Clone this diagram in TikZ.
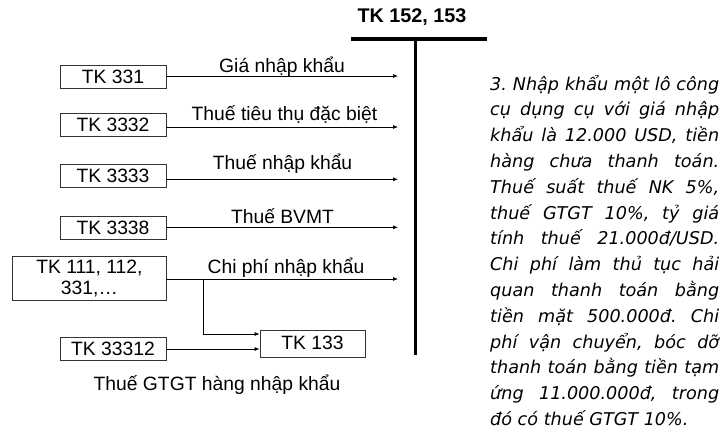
\documentclass[tikz,border=0pt]{standalone}
\usepackage{fontspec}
\setmainfont{Liberation Sans}
\newfontfamily\notefont{DejaVu Sans}
\usetikzlibrary{arrows.meta}
\begin{document}
\begin{tikzpicture}[x=1pt,y=-1pt,
  box/.style={draw=black!80, line width=0.8pt, minimum width=106pt, minimum height=23pt, inner sep=0pt, font=\fontsize{19.3}{21.5}\selectfont},
  arr/.style={-{Latex[length=5pt,width=4pt]}, line width=0.7pt},
  lbl/.style={font=\fontsize{19.3}{21}\selectfont, anchor=base, inner sep=0pt},
  note/.style={font=\notefont\itshape\fontsize{17.6}{20}\selectfont\frenchspacing, anchor=base west, inner sep=0pt}]
\useasboundingbox (0,0) rectangle (727,429);
% title and T account
\node[font=\bfseries\fontsize{19.8}{21}\selectfont, inner sep=0pt] (title) at (412,17) {TK 152, 153};
\coordinate (hl) at (351,39);
\coordinate (hr) at (487,39);
\coordinate (vt) at (415,39);
\coordinate (vb) at (415,355);
\draw[line width=4pt] (hl) -- (hr);
\draw[line width=3pt] (vt) -- (vb);
% boxes
\node[box] (b1) at (113,76.5) {TK 331};
\node[box] (b2) at (113,124.7) {TK 3332};
\node[box] (b3) at (113,176.3) {TK 3333};
\node[box] (b4) at (113,227.5) {TK 3338};
\node[box, minimum width=153.3pt, minimum height=43.3pt, align=center] (b5) at (89.4,278.3) {TK 111, 112,\\331,…};
\node[box] (b6) at (113,349) {TK 33312};
\node[box, minimum width=105pt, minimum height=27pt, text depth=2pt] (b7) at (312.5,343.5) {TK 133};
% arrow ends
\coordinate (e1) at (398,76);
\coordinate (e2) at (398,127);
\coordinate (e3) at (398,179.3);
\coordinate (e4) at (398,227.3);
\coordinate (e5) at (398,279);
\coordinate (br) at (203,279);
\draw[arr] (b1.east |- e1) -- (e1);
\draw[arr] (b2.east |- e2) -- (e2);
\draw[arr] (b3.east |- e3) -- (e3);
\draw[arr] (b4.east |- e4) -- (e4);
\draw[arr] (b5.east |- e5) -- (e5);
\draw[arr] (br) |- ([yshift=9.5pt]b7.west);
\draw[arr] (b6.east) -- (b7.west |- b6.east);
% labels
\node[lbl] (t1) at (282,72.3) {Giá nhập khẩu};
\node[lbl] (t2) at (284.5,120.7) {Thuế tiêu thụ đặc biệt};
\node[lbl] (t3) at (282.5,169) {Thuế nhập khẩu};
\node[lbl] (t4) at (282.5,223.3) {Thuế BVMT};
\node[lbl] (t5) at (286,273.5) {Chi phí nhập khẩu};
\node[lbl] (t6) at (217,390) {Thuế GTGT hàng nhập khẩu};
% note text
\foreach \t [count=\i] in {{3. Nhập khẩu một lô công},{cụ dụng cụ với giá nhập},{khẩu là 12.000 USD, tiền},{hàng chưa thanh toán.},{Thuế suất thuế NK 5\%,},{thuế GTGT 10\%, tỷ giá},{tính thuế 21.000đ/USD.},{Chi phí làm thủ tục hải},{quan thanh toán bằng},{tiền mặt 500.000đ. Chi},{phí vận chuyển, bóc dỡ},{thanh toán bằng tiền tạm},{ứng 11.000.000đ, trong}}
  \node[note] (l\i) at (490,{90+(\i-1)*25.8}) {\makebox[229pt][s]{\t}};
\node[note] (l14) at (490,{90+13*25.8}) {đó có thuế GTGT 10\%.};
\end{tikzpicture}
\end{document}
